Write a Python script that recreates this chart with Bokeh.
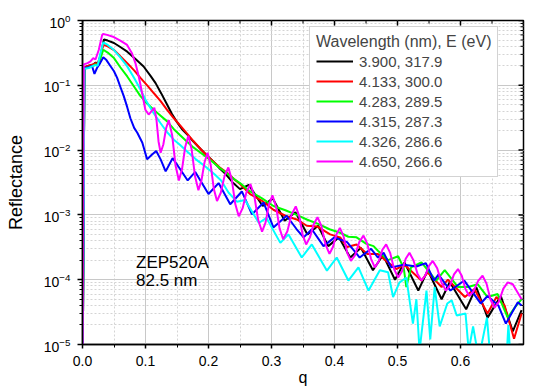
import math
from bokeh.plotting import figure
from bokeh.models import (Legend, LegendItem, SingleIntervalTicker, LogTicker, Label, Range1d)
from bokeh.embed import file_html
from bokeh.resources import INLINE

# ---------------- data ----------------
labels = ["3.900, 317.9", "4.133, 300.0", "4.283, 289.5", "4.315, 287.3", "4.326, 286.6", "4.650, 266.6"]
colors = ["#000000", "#ff0000", "#00ff00", "#0000ff", "#00ffff", "#ff00ff"]

q_black = [0.000, 0.003, 0.010, 0.017, 0.021, 0.024, 0.028, 0.034, 0.040, 0.050, 0.060, 0.071, 0.085, 0.097,
           0.108, 0.116, 0.125, 0.134, 0.142, 0.150, 0.158, 0.166, 0.176, 0.187, 0.198, 0.208, 0.218, 0.228,
           0.238, 0.250, 0.264, 0.286, 0.302, 0.321, 0.338, 0.357, 0.374, 0.390, 0.407, 0.425, 0.442, 0.461,
           0.477, 0.496, 0.511, 0.533, 0.548, 0.570, 0.583, 0.609, 0.625, 0.643, 0.664, 0.683, 0.697]
r_black = [1e-6, 0.19, 0.20, 0.21, 0.225, 0.21, 0.27, 0.51, 0.49, 0.45, 0.39, 0.33, 0.25, 0.195,
           0.14, 0.108, 0.075, 0.051, 0.036, 0.027, 0.021, 0.0175, 0.0135, 0.0105, 0.0082, 0.0066, 0.0052, 0.0042,
           0.0032, 0.0025, 0.0029, 0.00137, 0.0018, 0.00081, 0.0011, 0.0005, 0.00068, 0.00033, 0.00045, 0.00022, 0.00031, 0.00014,
           0.00024, 0.0001, 0.000185, 6.8e-5, 0.00014, 5e-5, 9.2e-5, 3.5e-5, 7.7e-5, 2.6e-5, 5.6e-5, 1.6e-5, 3.4e-5]

q_red = [0.000, 0.003, 0.010, 0.017, 0.021, 0.024, 0.028, 0.033, 0.040, 0.050, 0.060, 0.071, 0.082, 0.092,
         0.103, 0.113, 0.124, 0.134, 0.145, 0.155, 0.166, 0.176, 0.187, 0.198, 0.208, 0.218, 0.229, 0.240,
         0.250, 0.266, 0.285, 0.303, 0.322, 0.340, 0.356, 0.373, 0.393, 0.409, 0.420, 0.435, 0.452, 0.469,
         0.485, 0.498, 0.511, 0.538, 0.548, 0.570, 0.580, 0.607, 0.622, 0.643, 0.657, 0.670, 0.685, 0.697]
r_red = [1e-6, 0.19, 0.20, 0.21, 0.22, 0.21, 0.28, 0.42, 0.40, 0.35, 0.28, 0.22, 0.17, 0.13,
         0.099, 0.076, 0.057, 0.042, 0.031, 0.024, 0.018, 0.0138, 0.0105, 0.0081, 0.0066, 0.0054, 0.0045, 0.0036,
         0.003, 0.0021, 0.00165, 0.0012, 0.00097, 0.00085, 0.00068, 0.00066, 0.0005, 0.00045, 0.00032, 0.00035, 0.00025, 0.00025,
         0.000185, 0.000146, 0.00017, 9.7e-5, 0.00013, 7.7e-5, 0.0001, 5.4e-5, 7.2e-5, 3e-5, 5.4e-5, 4e-5, 1.23e-5, 3e-5]

q_green = [0.000, 0.003, 0.010, 0.017, 0.021, 0.024, 0.028, 0.033, 0.040, 0.050, 0.060, 0.071, 0.082, 0.092,
           0.103, 0.113, 0.124, 0.134, 0.145, 0.155, 0.166, 0.176, 0.187, 0.198, 0.208, 0.218, 0.229, 0.240,
           0.250, 0.266, 0.285, 0.303, 0.322, 0.340, 0.356, 0.375, 0.392, 0.409, 0.422, 0.435, 0.450, 0.462,
           0.469, 0.485, 0.501, 0.510, 0.514, 0.5215, 0.538, 0.5615, 0.575, 0.596, 0.612, 0.6275, 0.643, 0.659,
           0.675, 0.686, 0.697]
r_green = [1e-6, 0.18, 0.19, 0.20, 0.21, 0.20, 0.25, 0.354, 0.32, 0.263, 0.19, 0.137, 0.095, 0.068,
           0.052, 0.042, 0.034, 0.028, 0.021, 0.017, 0.0135, 0.011, 0.0092, 0.0076, 0.0064, 0.0053, 0.0044, 0.0036,
           0.0031, 0.0023, 0.0018, 0.00137, 0.00118, 0.001, 0.00085, 0.00072, 0.0006, 0.00053, 0.00046, 0.00045, 0.00036, 0.00033,
           0.00028, 0.0002, 0.00023, 0.00015, 7.7e-5, 0.000155, 0.000185, 9.7e-5, 0.00014, 7.7e-5, 7.7e-5, 8.5e-5, 5.4e-5, 6e-5,
           2.6e-5, 3.7e-5, 5e-5]

q_blue = [0.000, 0.003, 0.010, 0.015, 0.019, 0.023, 0.028, 0.033, 0.038, 0.044, 0.050, 0.055, 0.060, 0.0655,
          0.071, 0.076, 0.082, 0.087, 0.095, 0.1025, 0.110, 0.117, 0.124, 0.132, 0.143, 0.150, 0.167, 0.179,
          0.200, 0.216, 0.2345, 0.253, 0.269, 0.2875, 0.303, 0.324, 0.340, 0.351, 0.364, 0.3825, 0.400, 0.420,
          0.440, 0.458, 0.469, 0.478, 0.490, 0.510, 0.530, 0.545, 0.558, 0.565, 0.584, 0.606, 0.632, 0.643,
          0.660, 0.672, 0.691, 0.697]
r_blue = [1e-6, 0.185, 0.19, 0.20, 0.15, 0.185, 0.22, 0.27, 0.245, 0.20, 0.165, 0.13, 0.095, 0.068,
          0.046, 0.031, 0.022, 0.0185, 0.013, 0.0072, 0.0085, 0.0097, 0.0072, 0.0047, 0.0075, 0.006, 0.0034, 0.0046,
          0.0021, 0.0031, 0.00146, 0.0023, 0.00102, 0.00155, 0.00064, 0.00097, 0.0006, 0.00045, 0.0006, 0.00033, 0.00045, 0.00038,
          0.00022, 0.0003, 0.00022, 0.00026, 0.000155, 0.00017, 0.00016, 0.00018, 9.7e-5, 0.00012, 6.8e-5, 9.7e-5, 4.3e-5, 5.6e-5,
          4e-5, 2.1e-5, 4.5e-5, 4e-5]

q_cyan = [0.000, 0.003, 0.010, 0.017, 0.021, 0.024, 0.028, 0.033, 0.040, 0.050, 0.060, 0.071, 0.082, 0.092,
          0.100, 0.113, 0.124, 0.134, 0.145, 0.155, 0.166, 0.180, 0.196, 0.210, 0.220, 0.232, 0.245, 0.258,
          0.280, 0.292, 0.314, 0.327, 0.348, 0.364, 0.388, 0.4035, 0.422, 0.438, 0.454, 0.472, 0.485, 0.493,
          0.503, 0.514, 0.5245, 0.530, 0.535, 0.546, 0.552, 0.559, 0.567, 0.579, 0.586, 0.594, 0.608, 0.613,
          0.620, 0.629, 0.642, 0.646, 0.652, 0.660, 0.672, 0.676, 0.680, 0.700]
r_cyan = [1e-6, 0.18, 0.185, 0.20, 0.205, 0.20, 0.30, 0.46, 0.42, 0.35, 0.27, 0.196, 0.13, 0.086,
          0.06, 0.037, 0.026, 0.019, 0.0145, 0.012, 0.0095, 0.0072, 0.0055, 0.0042, 0.0034, 0.0022, 0.0016, 0.0017,
          0.00075, 0.0009, 0.00037, 0.0005, 0.00022, 0.00035, 0.000138, 0.00022, 9.7e-5, 0.000155, 6.8e-5, 0.00014, 0.00013, 5.4e-5,
          9e-5, 0.000108, 2.1e-5, 5e-5, 8e-6, 6.8e-5, 1.2e-5, 7.7e-5, 1.9e-5, 4.3e-5, 4.8e-5, 2.8e-5, 3e-5, 8e-6,
          1.9e-5, 6e-6, 2.6e-5, 9e-6, 5e-6, 3e-6, 4e-6, 2e-5, 5e-6, 3e-6]

q_magenta = [0.000, 0.002, 0.008, 0.0127, 0.017, 0.0206, 0.0259, 0.0312, 0.0327, 0.039, 0.0497, 0.060, 0.0708, 0.0787,
             0.084, 0.0893, 0.0946, 0.0998, 0.105, 0.114, 0.1173, 0.1207, 0.124, 0.1283, 0.1327, 0.137, 0.1423, 0.1477,
             0.153, 0.158, 0.163, 0.168, 0.1733, 0.1787, 0.184, 0.1888, 0.1937, 0.1985, 0.2035, 0.2085, 0.2135, 0.2195,
             0.2255, 0.2315, 0.237, 0.2425, 0.248, 0.2542, 0.2603, 0.2665, 0.2727, 0.2788, 0.285, 0.2905, 0.296, 0.3015,
             0.3072, 0.3128, 0.3185, 0.3252, 0.3318, 0.3385, 0.344, 0.3495, 0.355, 0.361, 0.367, 0.373, 0.3793, 0.3857,
             0.392, 0.3975, 0.403, 0.4085, 0.4143, 0.4202, 0.426, 0.4327, 0.4393, 0.446, 0.452, 0.458, 0.464, 0.470,
             0.476, 0.482, 0.4883, 0.4947, 0.501, 0.507, 0.513, 0.519, 0.5253, 0.5317, 0.538, 0.544, 0.550, 0.556,
             0.563, 0.570, 0.577, 0.5833, 0.5897, 0.596, 0.602, 0.608, 0.614, 0.621, 0.628, 0.635, 0.6413, 0.6477,
             0.654, 0.661, 0.668, 0.675, 0.683, 0.690, 0.697]
r_magenta = [1e-6, 0.21, 0.22, 0.234, 0.263, 0.25, 0.354, 0.60, 0.62, 0.60, 0.555, 0.49, 0.42, 0.31,
             0.22, 0.137, 0.076, 0.042, 0.0354, 0.045, 0.0302, 0.0136, 0.0091, 0.0122, 0.0217, 0.029, 0.017, 0.0058,
             0.0034, 0.0051, 0.0112, 0.0166, 0.0102, 0.0039, 0.0024, 0.0034, 0.0065, 0.0091, 0.0059, 0.0025, 0.00164, 0.0022,
             0.0040, 0.0054, 0.0035, 0.00147, 0.00095, 0.00127, 0.00225, 0.003, 0.00196, 0.00084, 0.00055, 0.00076, 0.00145, 0.002,
             0.00135, 0.00062, 0.00042, 0.00056, 0.00101, 0.00135, 0.00096, 0.00049, 0.00035, 0.00045, 0.00072, 0.00092, 0.00067, 0.00035,
             0.00025, 0.00032, 0.0005, 0.00063, 0.00047, 0.00026, 0.000195, 0.00024, 0.00038, 0.00048, 0.00036, 0.00021, 0.000155, 0.00019,
             0.00029, 0.00035, 0.00026, 0.000145, 0.000108, 0.000134, 0.00021, 0.00026, 0.0002, 0.000124, 9.7e-5, 0.000116, 0.000164, 0.000195,
             0.00015, 8.9e-5, 6.8e-5, 8.2e-5, 0.000121, 0.000146, 0.000115, 7.1e-5, 5.6e-5, 6.7e-5, 9.6e-5, 0.000115, 8.7e-5, 4.9e-5,
             3.7e-5, 4.6e-5, 7.3e-5, 9.1e-5, 8.5e-5, 6.5e-5, 5e-5]

series_q = [q_black, q_red, q_green, q_blue, q_cyan, q_magenta]
series_r = [r_black, r_red, r_green, r_blue, r_cyan, r_magenta]

# tick positions of the frame (top / right, ticks pointing inward)
x_major_ticks = [0.0, 0.1, 0.2, 0.3, 0.4, 0.5, 0.6, 0.7]
x_minor_ticks = [0.05, 0.15, 0.25, 0.35, 0.45, 0.55, 0.65]
y_major_ticks = [1e-5, 1e-4, 1e-3, 1e-2, 1e-1, 1e0]
y_minor_ticks = [k * 10.0 ** e for e in range(-5, 0) for k in range(2, 10)]

X0, X1, Y0, Y1 = 0.0, 0.7, 1e-5, 1.0
FONT = "Liberation Sans"

# ---------------- figure ----------------
p = figure(width=534, height=391, y_axis_type="log",
           x_range=Range1d(X0, X1), y_range=Range1d(Y0, Y1),
           output_backend="svg", toolbar_location=None,
           min_border_left=82, min_border_right=11, min_border_top=20, min_border_bottom=47)
p.background_fill_color = "white"
p.border_fill_color = "white"
p.outline_line_color = "black"
p.outline_line_width = 1.5

xax = p.xaxis[0]
xax.ticker = SingleIntervalTicker(interval=0.1, num_minor_ticks=2)
xax.major_label_overrides = {t: f"{t:.1f}" for t in x_major_ticks}
yax = p.yaxis[0]
yax.ticker = LogTicker(num_minor_ticks=10)

for ax in (xax, yax):
    ax.axis_line_color = "black"
    ax.axis_line_width = 1.5
    ax.major_tick_line_color = "black"
    ax.minor_tick_line_color = "black"
    ax.major_tick_line_width = 1.5
    ax.minor_tick_line_width = 1
    ax.major_label_text_font = FONT
    ax.major_label_text_font_size = "14px"
    ax.major_label_text_color = "black"
    ax.axis_label_text_font = FONT
    ax.axis_label_text_font_style = "normal"
    ax.axis_label_text_color = "black"
    ax.major_tick_in = 0
    ax.minor_tick_in = 0

xax.major_tick_out = 4
xax.minor_tick_out = 3
xax.major_label_standoff = 7
xax.axis_label = "q"
xax.axis_label_text_font_size = "16px"
xax.axis_label_standoff = 0

yax.major_tick_out = 5
yax.minor_tick_out = 3
yax.major_label_standoff = 7
yax.axis_label = "Reflectance"
yax.axis_label_text_font_size = "18px"
yax.axis_label_standoff = 15

p.xgrid.grid_line_color = "#c8c8c8"
p.ygrid.grid_line_color = "#c8c8c8"
p.xgrid.minor_grid_line_color = "#d4d4d4"
p.ygrid.minor_grid_line_color = "#d4d4d4"
p.xgrid.minor_grid_line_dash = "2 2"
p.ygrid.minor_grid_line_dash = "2 2"

# inward ticks on the top and right edges of the frame
p.ray(x=x_major_ticks, y=[Y1] * len(x_major_ticks), length=5, angle=-math.pi / 2,
      length_units="screen", line_color="black", line_width=1.5)
p.ray(x=x_minor_ticks, y=[Y1] * len(x_minor_ticks), length=3, angle=-math.pi / 2,
      length_units="screen", line_color="black", line_width=1)
p.ray(x=[X1] * len(y_major_ticks), y=y_major_ticks, length=5, angle=math.pi,
      length_units="screen", line_color="black", line_width=1.5)
p.ray(x=[X1] * len(y_minor_ticks), y=y_minor_ticks, length=3, angle=math.pi,
      length_units="screen", line_color="black", line_width=1)

renderers = []
for qs, rs, c in zip(series_q, series_r, colors):
    renderers.append(p.line(qs, rs, line_color=c, line_width=2))

items = [LegendItem(label=lab, renderers=[r]) for lab, r in zip(labels, renderers)]
legend = Legend(items=items, title="Wavelength (nm), E (eV)", location=(227, 167),
                title_text_font=FONT, title_text_font_size="16px", title_text_font_style="normal",
                title_standoff=1,
                label_text_font=FONT, label_text_font_size="15px",
                label_height=18, glyph_height=18, glyph_width=37, label_standoff=6,
                spacing=2, padding=6, margin=0,
                border_line_color="#a8a8a8", border_line_width=1.5,
                background_fill_color="white", background_fill_alpha=1.0)
p.add_layout(legend)

p.add_layout(Label(x=0.085, y=1.85e-4, text="ZEP520A", text_font=FONT, text_font_size="17px",
                   text_baseline="alphabetic", text_color="black"))
p.add_layout(Label(x=0.085, y=9.66e-5, text="82.5 nm", text_font=FONT, text_font_size="17px",
                   text_baseline="alphabetic", text_color="black"))

open("out.html", "w").write(file_html(p, INLINE))
